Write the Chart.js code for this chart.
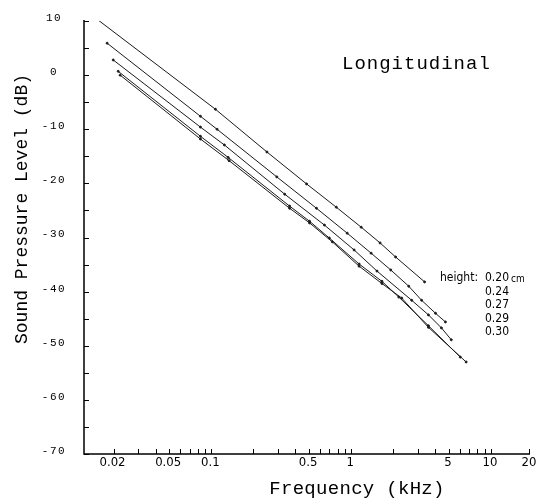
<!DOCTYPE html>
<html lang="en">
<head>
    <meta charset="UTF-8">
    <title>Longitudinal - Sound Pressure Level</title>
    <script src="https://cdn.jsdelivr.net/npm/chart.js"></script>
    <style>
        body { margin: 0; background: #fff; }
        canvas { display: block; }
    </style>
</head>
<body>
    <canvas id="splChart" width="537" height="502"></canvas>
    <script>
        // valores (kHz, dB)
        const freq020 = [0.0146, 0.107, 0.25, 0.48, 0.783, 1.18, 1.61, 2.08, 3.35];
        const spl020  = [10.7, -6.3, -14.2, -20.1, -24.4, -28.1, -31.0, -33.6, -38.2];

        const freq024 = [0.018, 0.0836, 0.11, 0.294, 0.565, 0.937, 1.39, 1.92, 2.58, 3.19, 4.01, 4.72];
        const spl024  = [5.9, -7.6, -10.0, -18.8, -24.6, -29.2, -32.9, -36.0, -39.0, -41.6, -44.0, -45.6];

        const freq027 = [0.0199, 0.0836, 0.124, 0.335, 0.644, 1.05, 1.53, 2.71, 3.57, 4.42, 5.2];
        const spl027  = [2.8, -9.6, -12.9, -22.0, -27.7, -32.3, -36.2, -41.6, -44.3, -46.7, -48.9];

        const freq029 = [0.0216, 0.0836, 0.132, 0.363, 0.504, 0.698, 1.14, 1.66, 2.19, 3.57, 6.03];
        const spl029  = [0.7, -11.3, -15.2, -24.2, -27.0, -30.1, -34.9, -38.1, -41.0, -46.3, -52.1];

        const freq030 = [0.0223, 0.0836, 0.134, 0.363, 0.504, 0.733, 1.14, 1.66, 2.3, 3.57, 6.64];
        const spl030  = [0.0, -11.8, -15.8, -24.6, -27.3, -30.8, -35.3, -38.5, -41.2, -46.6, -53.0];

        const alturas = ['0.20', '0.24', '0.27', '0.29', '0.30'];

        const xLabels = [0.02, 0.05, 0.1, 0.5, 1, 5, 10, 20];
        const yLabels = [10, 0, -10, -20, -30, -40, -50, -60, -70];

        function pontos(fs, vs) {
            return fs.map((f, i) => ({ x: f, y: vs[i] }));
        }

        const series = [
            pontos(freq020, spl020),
            pontos(freq024, spl024),
            pontos(freq027, spl027),
            pontos(freq029, spl029),
            pontos(freq030, spl030)
        ];

        // eixos, ticks para dentro e textos
        const decoracao = {
            id: 'decoracao',
            afterDraw(chart) {
                const ctx = chart.ctx;
                const a = chart.chartArea;
                const x = chart.scales.x;
                const y = chart.scales.y;
                const xPix = v => Math.min(x.getPixelForValue(v), a.right);
                ctx.save();
                ctx.strokeStyle = '#000';
                ctx.fillStyle = '#000';

                // linhas dos eixos
                ctx.lineWidth = 1.5;
                ctx.beginPath();
                ctx.moveTo(a.left, a.top - 1);
                ctx.lineTo(a.left, a.bottom);
                ctx.lineTo(a.right, a.bottom);
                ctx.stroke();

                ctx.lineWidth = 1;
                // ticks y
                for (let v = -70; v <= 10; v += 5) {
                    const py = Math.round(y.getPixelForValue(v)) + 0.5;
                    ctx.beginPath();
                    ctx.moveTo(a.left, py);
                    ctx.lineTo(a.left + 5, py);
                    ctx.stroke();
                }
                // ticks x (log)
                [0.01, 0.1, 1, 10].forEach(d => {
                    for (let m = 1; m <= 9; m++) {
                        const v = m * d;
                        if (v < x.min || v > x.max) continue;
                        const px = Math.round(x.getPixelForValue(v)) + 0.5;
                        ctx.beginPath();
                        ctx.moveTo(px, a.bottom);
                        ctx.lineTo(px, a.bottom - 5);
                        ctx.stroke();
                    }
                });
                const p20 = Math.round(xPix(20)) - 0.5;
                ctx.beginPath();
                ctx.moveTo(p20, a.bottom);
                ctx.lineTo(p20, a.bottom - 5);
                ctx.stroke();

                // rótulos y
                ctx.font = '11px "Liberation Mono", monospace';
                ctx.letterSpacing = '1.5px';
                ctx.textAlign = 'center';
                ctx.textBaseline = 'middle';
                yLabels.forEach(v => {
                    ctx.fillText(String(v), a.left - 30, y.getPixelForValue(v) - 3);
                });

                // rótulos x
                ctx.letterSpacing = '0px';
                ctx.font = '13px "Liberation Sans Narrow", "DejaVu Sans Condensed", sans-serif';
                xLabels.forEach(v => {
                    ctx.fillText(String(v), xPix(v) - 1, a.bottom + 9);
                });

                // títulos
                ctx.font = '19px "Liberation Mono", monospace';
                ctx.letterSpacing = '0.3px';
                ctx.fillText('Frequency (kHz)', 357, 489);

                ctx.save();
                ctx.translate(22, 209);
                ctx.rotate(-Math.PI / 2);
                ctx.font = '18px "Liberation Mono", monospace';
                ctx.letterSpacing = '0px';
                ctx.fillText('Sound Pressure Level (dB)', 0, 0);
                ctx.restore();

                ctx.textAlign = 'left';
                ctx.textBaseline = 'alphabetic';
                ctx.font = '19px "Liberation Mono", monospace';
                ctx.letterSpacing = '1px';
                ctx.fillText('Longitudinal', 342, 69);

                // legenda
                ctx.letterSpacing = '0px';
                ctx.font = '12px "Liberation Sans Narrow", "DejaVu Sans Condensed", sans-serif';
                ctx.textBaseline = 'middle';
                ctx.fillText('height:', 440, 278);
                alturas.forEach((h, i) => {
                    ctx.fillText(h, 485, 278 + i * 13.5);
                });
                ctx.font = '10px "Liberation Sans Narrow", "DejaVu Sans Condensed", sans-serif';
                ctx.fillText('cm', 511, 279);
                ctx.restore();
            }
        };

        new Chart(document.getElementById('splChart').getContext('2d'), {
            type: 'scatter',
            data: {
                datasets: series.map((s, i) => ({
                    label: alturas[i],
                    data: s,
                    showLine: true,
                    borderColor: '#1a1a1a',
                    backgroundColor: '#1a1a1a',
                    borderWidth: 1,
                    pointRadius: 1,
                    pointHoverRadius: 1,
                    tension: 0
                }))
            },
            options: {
                responsive: false,
                animation: false,
                layout: { padding: { left: 84, top: 21, right: 7, bottom: 48 } },
                plugins: { legend: { display: false }, tooltip: { enabled: false } },
                scales: {
                    x: { type: 'logarithmic', min: 0.0123, max: 19, display: false },
                    y: { min: -70, max: 10, display: false }
                }
            },
            plugins: [decoracao]
        });
    </script>
</body>
</html>
